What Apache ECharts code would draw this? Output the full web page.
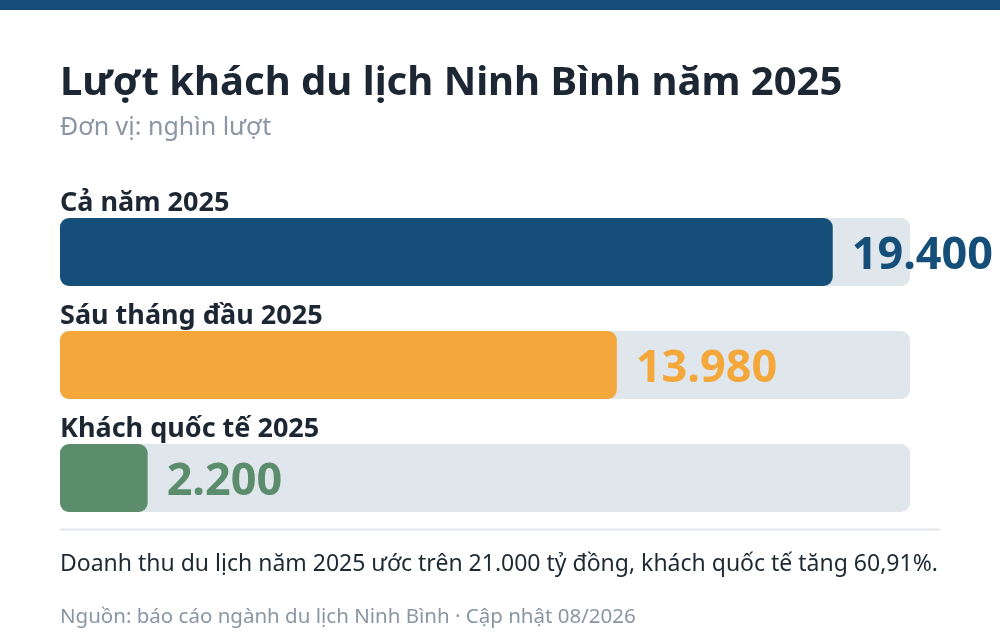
<!DOCTYPE html>
<html>
<head>
<meta charset="utf-8">
<script src="https://cdn.jsdelivr.net/npm/echarts@6/dist/echarts.min.js"></script>
<style>
html,body{margin:0;padding:0;background:#fff;}
#c{width:1000px;height:640px;}
</style>
</head>
<body>
<div id="c"></div>
<script>
const categories = ['Cả năm 2025', 'Sáu tháng đầu 2025', 'Khách quốc tế 2025'];
const values = [19400, 13980, 2200];
const colors = ['#154f79', '#f4a83c', '#5b8c6b'];

const FONT = '"Noto Sans", "Open Sans", sans-serif';
function fmt(v) { return String(v).replace(/\B(?=(\d{3})+(?!\d))/g, '.'); }

const chart = echarts.init(document.getElementById('c'));
chart.setOption({
  backgroundColor: '#ffffff',
  animation: false,
  textStyle: { fontFamily: FONT },
  title: [
    { text: 'Lượt khách du lịch Ninh Bình năm 2025', left: 60, top: 64, padding: 0,
      textStyle: { fontFamily: FONT, fontSize: 40, fontWeight: 'bold', color: '#1c2733' } },
    { text: 'Đơn vị: nghìn lượt', left: 60, top: 115, padding: 0,
      textStyle: { fontFamily: FONT, fontSize: 25, fontWeight: 'normal', color: '#8a96a3' } },
    { text: 'Doanh thu du lịch năm 2025 ước trên 21.000 tỷ đồng, khách quốc tế tăng 60,91%.', left: 60, top: 553, padding: 0,
      textStyle: { fontFamily: FONT, fontSize: 23, fontWeight: 'normal', color: '#1f2933' } },
    { text: 'Nguồn: báo cáo ngành du lịch Ninh Bình · Cập nhật 08/2026', left: 60, top: 607, padding: 0,
      textStyle: { fontFamily: FONT, fontSize: 20.5, fontWeight: 'normal', color: '#8a96a3' } }
  ],
  graphic: [
    { type: 'rect', left: 0, top: 0, shape: { width: 1000, height: 10 }, style: { fill: '#154f79' } },
    { type: 'line', shape: { x1: 60, y1: 529.5, x2: 940, y2: 529.5 }, style: { stroke: '#e1e5ea', lineWidth: 2 } }
  ],
  grid: { left: 60, right: 90, top: 195.5, height: 339, containLabel: false },
  xAxis: { type: 'value', min: 0, max: Math.max(...values) * 1.1, show: false },
  yAxis: {
    type: 'category', data: categories, inverse: true,
    axisLine: { show: false }, axisTick: { show: false },
    axisLabel: {
      inside: true, margin: 0, align: 'left', verticalAlign: 'bottom',
      padding: [0, 0, 35, 0],
      fontFamily: FONT, fontSize: 27, fontWeight: 'bold', color: '#1c2733'
    },
    z: 10
  },
  series: [{
    type: 'bar',
    data: values.map((v, i) => ({ value: v, itemStyle: { color: colors[i] },
      label: { color: colors[i] } })),
    barWidth: 68,
    itemStyle: { borderRadius: 9 },
    showBackground: true,
    backgroundStyle: { color: '#dfe6ec', borderRadius: 9 },
    label: {
      show: true, position: 'right', distance: 19, offset: [0, 4],
      fontFamily: FONT, fontSize: 45, fontWeight: 'bold',
      formatter: p => fmt(p.value)
    }
  }]
});
</script>
</body>
</html>
